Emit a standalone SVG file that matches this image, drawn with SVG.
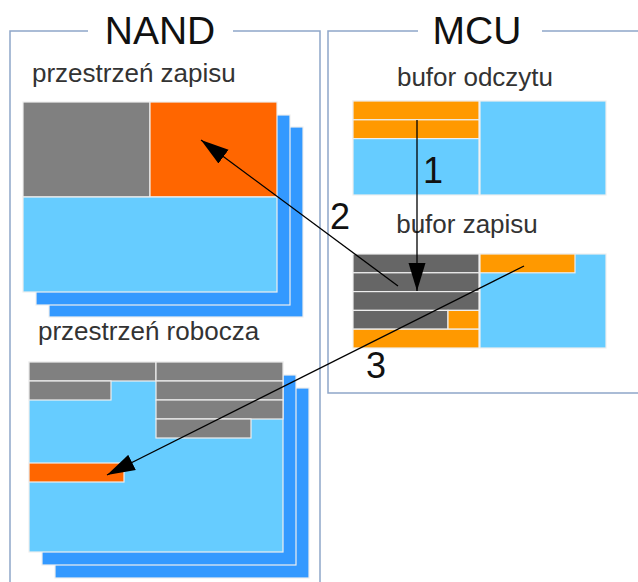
<svg xmlns="http://www.w3.org/2000/svg" width="638" height="582" viewBox="0 0 638 582">
<defs>
<style>
.frame{fill:none;stroke:#8FA6C9;stroke-width:1.5}
.title{font-family:"Liberation Sans",Arial,sans-serif;font-size:39px;fill:#111}
.lbl{font-family:"Liberation Sans",Arial,sans-serif;font-size:26px;fill:#333}
.num{font-family:"Liberation Sans",Arial,sans-serif;font-size:36px;fill:#111}
rect{stroke:#eeeeee;stroke-width:1.2}
.sh{fill:#3399FF}
.lb{fill:#66CCFF}
.g{fill:#808080}
.dg{fill:#666666}
.o1{fill:#FF6600}
.o2{fill:#FF9900}
.conn{stroke:#000;stroke-width:1.3;fill:none}
</style>
<marker id="ah" markerUnits="userSpaceOnUse" markerWidth="30" markerHeight="18" refX="28" refY="9" orient="auto">
<path d="M0,0.5 L28,9 L0,17.5 Z" fill="#000"/>
</marker>
</defs>

<g id="nand-frame">
<path class="frame" d="M88,31 H10 V582 M233,31 H320 V582"/>
<text class="title" x="160" y="44" text-anchor="middle">NAND</text>
</g>

<g id="mcu-frame">
<path class="frame" d="M418,31 H328 V393 H638 M542,31 H638"/>
<text class="title" x="477" y="44" text-anchor="middle">MCU</text>
</g>

<g id="nand-write-space">
<text class="lbl" x="32" y="82">przestrzeń zapisu</text>
<rect class="sh" x="49" y="127" width="254" height="190"/>
<rect class="sh" x="36" y="115" width="254" height="190"/>
<rect class="g" x="23" y="102" width="127" height="95"/>
<rect class="o1" x="150" y="102" width="127" height="95"/>
<rect class="lb" x="23" y="197" width="254" height="95"/>
</g>

<g id="nand-work-space">
<text class="lbl" x="38" y="340">przestrzeń robocza</text>
<rect class="sh" x="55" y="388" width="254" height="190"/>
<rect class="sh" x="42" y="375" width="254" height="190"/>
<rect class="lb" x="29" y="362" width="254" height="190"/>
<rect class="g" x="29" y="362" width="127" height="19"/>
<rect class="g" x="29" y="381" width="82" height="19"/>
<rect class="g" x="156" y="362" width="127" height="19"/>
<rect class="g" x="156" y="381" width="127" height="19"/>
<rect class="g" x="156" y="400" width="127" height="19"/>
<rect class="g" x="156" y="419" width="95" height="19"/>
<rect class="o1" x="29" y="463" width="95" height="19"/>
</g>

<g id="mcu-read-buffer">
<text class="lbl" x="475" y="86" text-anchor="middle">bufor odczytu</text>
<rect class="lb" x="353" y="101" width="126" height="94"/>
<rect class="o2" x="353" y="101" width="126" height="18.8"/>
<rect class="o2" x="353" y="119.8" width="126" height="18.8"/>
<rect class="lb" x="480" y="101" width="126" height="94"/>
</g>

<g id="mcu-write-buffer">
<text class="lbl" x="467" y="233" text-anchor="middle">bufor zapisu</text>
<rect class="dg" x="353" y="254" width="126" height="18.8"/>
<rect class="dg" x="353" y="272.8" width="126" height="18.8"/>
<rect class="dg" x="353" y="291.6" width="126" height="18.8"/>
<rect class="dg" x="353" y="310.4" width="95" height="18.8"/>
<rect class="o2" x="448" y="310.4" width="31" height="18.8"/>
<rect class="o2" x="353" y="329.2" width="126" height="18.8"/>
<rect class="lb" x="480" y="254" width="126" height="94"/>
<rect class="o2" x="480" y="254" width="95" height="18.8"/>
</g>

<g id="connectors">
<line class="conn" x1="417" y1="120" x2="417" y2="291" marker-end="url(#ah)"/>
<line class="conn" x1="398" y1="286" x2="201" y2="140" marker-end="url(#ah)"/>
<line class="conn" x1="524" y1="266" x2="107" y2="475" marker-end="url(#ah)"/>
<text class="num" x="423" y="183">1</text>
<text class="num" x="330" y="229">2</text>
<text class="num" x="366" y="378">3</text>
</g>
</svg>
